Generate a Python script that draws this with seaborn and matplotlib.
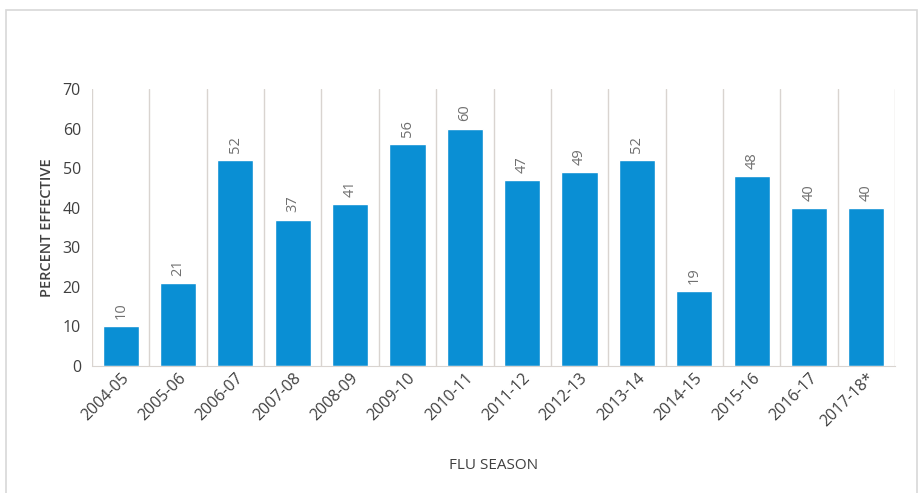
#!/usr/bin/env python3

# Flu vaccine effectiveness by season, bar chart.

import numpy as np
import matplotlib
matplotlib.use('Agg')
import matplotlib.pyplot as plt
import seaborn as sns
from matplotlib.patches import Rectangle

seasons = ['2004-05', '2005-06', '2006-07', '2007-08', '2008-09', '2009-10',
           '2010-11', '2011-12', '2012-13', '2013-14', '2014-15', '2015-16',
           '2016-17', '2017-18*']
effective = [10, 21, 52, 37, 41, 56, 60, 47, 49, 52, 19, 48, 40, 40]

BAR_COLOR = '#0a8fd4'
TEXT_COLOR = '#404040'
GRID_COLOR = '#d9d4d0'


def main():
    sns.set_style('white')
    plt.rcParams['font.family'] = ['Open Sans', 'DejaVu Sans']

    fig = plt.figure(figsize=[9.23, 4.93], dpi=100)
    ax = fig.add_axes([0.0997, 0.2576, 0.87, 0.562])

    sns.barplot(x=seasons, y=effective, color=BAR_COLOR, width=0.63,
                saturation=1, ax=ax)

    for i, v in enumerate(effective):
        ax.text(i, v + 1.8, str(v), rotation=90, ha='center', va='bottom',
                fontsize=10.5, color='#707070')

    ax.set_ylim(0, 70)
    ax.set_xlim(-0.5, len(seasons) - 0.5)
    ax.set_yticks(np.arange(0, 71, 10))
    ax.tick_params(axis='y', labelsize=11.5, labelcolor=TEXT_COLOR, length=0, pad=8)
    ax.tick_params(axis='x', labelsize=11.5, labelcolor=TEXT_COLOR, length=0, pad=3)
    for label in ax.get_xticklabels():
        label.set_rotation(45)
        label.set_ha('right')
        label.set_rotation_mode('anchor')

    ax.set_xticks(np.arange(-0.5, len(seasons)), minor=True)
    ax.grid(False)
    ax.grid(True, axis='x', which='minor', color=GRID_COLOR, linewidth=1)
    ax.set_axisbelow(True)

    for side in ['top', 'right', 'left']:
        ax.spines[side].set_visible(False)
    ax.spines['bottom'].set_color(GRID_COLOR)

    ax.set_ylabel('PERCENT EFFECTIVE', fontsize=10.5, fontweight='semibold',
                  color=TEXT_COLOR, labelpad=6)
    ax.set_xlabel('FLU SEASON', fontsize=11, color=TEXT_COLOR, labelpad=20)

    fig.patches.append(Rectangle((0.006, -0.01), 0.988, 0.99,
                                 transform=fig.transFigure, fill=False,
                                 edgecolor='#d8d8d8', linewidth=1.2))

    fig.savefig('out.png', dpi=100)


if __name__ == '__main__':
    main()
